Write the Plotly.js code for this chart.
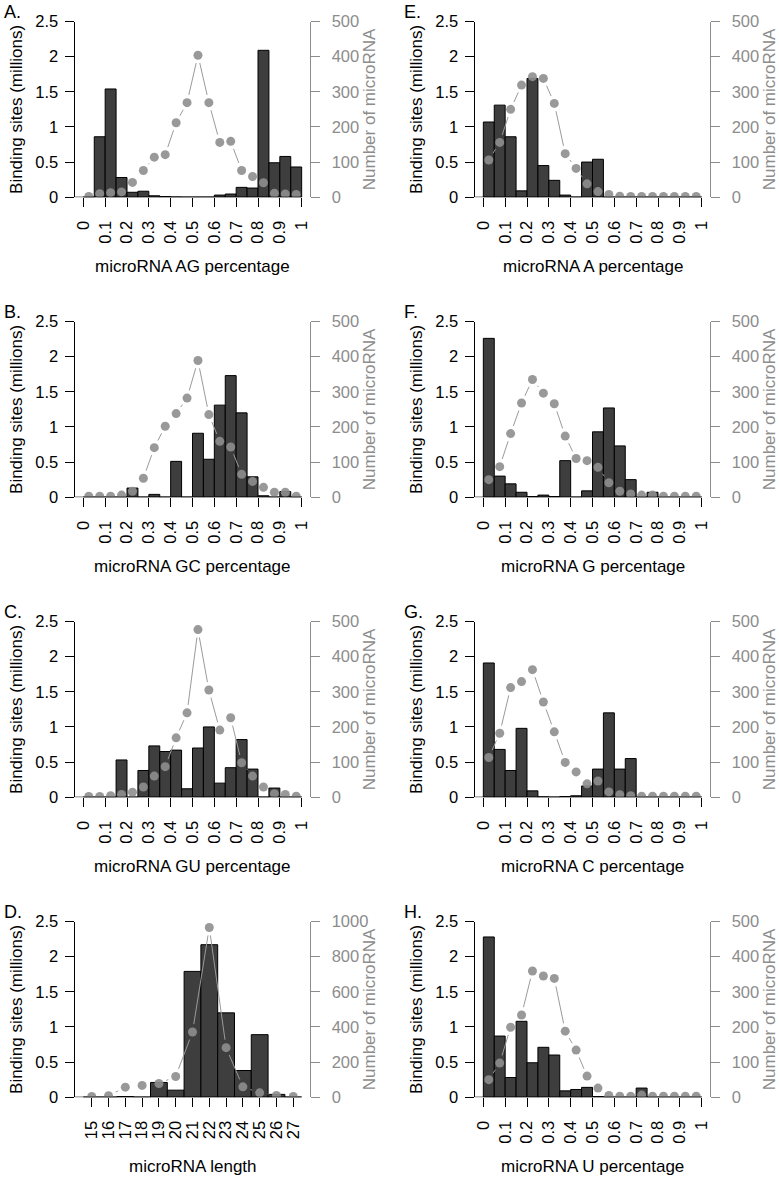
<!DOCTYPE html>
<html><head><meta charset="utf-8">
<script src="https://cdn.plot.ly/plotly-3.0.1.min.js"></script>
<style>html,body{margin:0;padding:0;background:#fff}</style>
</head><body><div id="chart" style="width:779px;height:1179px"></div>
<script>
// ---- data ----
const pctBins = [0.025,0.075,0.125,0.175,0.225,0.275,0.325,0.375,0.425,0.475,0.525,0.575,0.625,0.675,0.725,0.775,0.825,0.875,0.925,0.975];
const lengthBins = [15,16,17,18,19,20,21,22,23,24,25,26,27];
const pctTicks = [0,0.1,0.2,0.3,0.4,0.5,0.6,0.7,0.8,0.9,1];
const pctTickText = ["0","0.1","0.2","0.3","0.4","0.5","0.6","0.7","0.8","0.9","1"];
const lengthTicks = [15,16,17,18,19,20,21,22,23,24,25,26,27];

const agSites  = [0,0.86,1.54,0.28,0.07,0.085,0.02,0.01,0.003,0,0,0,0.03,0.045,0.14,0.13,2.09,0.49,0.58,0.43];
const agCount  = [2,10,13,15,42,76,114,121,212,269,404,269,156,159,76,59,41,11,9,8];

const gcSites  = [0,0,0,0,0.13,0,0.04,0,0.51,0,0.91,0.54,1.31,1.73,1.20,0.29,0.02,0,0.08,0];
const gcCount  = [3,3,3,6,17,54,141,202,238,282,389,235,159,143,65,45,28,14,14,3];

const guSites  = [0,0,0,0.53,0,0.38,0.73,0.65,0.67,0.12,0.70,1.00,0.20,0.42,0.82,0.40,0,0.13,0,0];
const guCount  = [2,2,4,8,14,29,60,87,169,240,477,305,191,226,98,60,29,10,8,3];

const lenSites = [0,0,0.01,0,0.21,0.10,1.79,2.17,1.20,0.38,0.89,0.04,0];
const lenCount = [4,8,57,67,78,118,371,966,282,59,25,10,4];

const aSites   = [1.07,1.31,0.86,0.09,1.69,0.45,0.24,0.03,0,0.50,0.54,0,0,0,0,0,0,0,0,0];
const aCount   = [106,156,250,319,343,338,267,124,82,38,16,8,3,2,2,2,2,2,2,2];

const gSites   = [2.26,0.30,0.19,0.07,0.01,0.03,0.01,0.52,0,0.09,0.93,1.27,0.73,0.25,0,0.07,0,0,0,0];
const gCount   = [50,87,181,268,335,296,266,174,110,104,85,41,17,9,6,6,3,3,3,3];

const cSites   = [1.91,0.68,0.38,0.98,0.09,0.005,0,0.01,0.02,0.16,0.40,1.20,0.40,0.55,0,0,0,0,0,0];
const cCount   = [113,182,312,329,363,271,186,99,72,38,46,15,7,4,3,3,3,3,3,3];

const uSites   = [2.28,0.87,0.28,1.08,0.49,0.71,0.60,0.09,0.11,0.14,0.01,0,0,0,0.13,0,0,0,0,0];
const uCount   = [50,97,199,234,359,345,338,188,134,60,26,5,3,3,6,3,3,3,3,3];

const panelLetters = ["A.","B.","C.","D.","E.","F.","G.","H."];
const xTitles = ["microRNA AG percentage","microRNA GC percentage","microRNA GU percentage","microRNA length",
                 "microRNA A percentage","microRNA G percentage","microRNA C percentage","microRNA U percentage"];
const leftTitle = "Binding sites (millions)";
const rightTitle = "Number of microRNA";

// ---- layout constants ----
const W = 779, H = 1179;
const colL = [74.6, 474.6], colR = [310.4, 710.4];
const rowTop = r => 21.5 + 300*r, rowBot = r => 197.2 + 300*r;
const GAP = 8;
const FONT = "Liberation Sans, Arial, Helvetica, sans-serif";
const GREY = "#8c8c8c";

const panels = [
  {x: pctBins, s: agSites,  c: agCount,  col:0,row:0},
  {x: pctBins, s: gcSites,  c: gcCount,  col:0,row:1},
  {x: pctBins, s: guSites,  c: guCount,  col:0,row:2},
  {x: lengthBins, s: lenSites, c: lenCount, col:0,row:3, len:true},
  {x: pctBins, s: aSites,   c: aCount,   col:1,row:0},
  {x: pctBins, s: gSites,   c: gCount,   col:1,row:1},
  {x: pctBins, s: cSites,   c: cCount,   col:1,row:2},
  {x: pctBins, s: uSites,   c: uCount,   col:1,row:3},
];

const data = [], layout = {
  width: W, height: H, margin: {l:0,r:0,t:0,b:0},
  paper_bgcolor: "#fff", plot_bgcolor: "rgba(0,0,0,0)",
  showlegend: false, font: {family: FONT, size: 16.5, color: "#000"},
  annotations: [], shapes: []
};

panels.forEach((p, k) => {
  const i = k + 1, yl = 2*i - 1, yr = 2*i;
  const xName = i === 1 ? "xaxis" : "xaxis" + i;
  const ylName = yl === 1 ? "yaxis" : "yaxis" + yl;
  const yrName = "yaxis" + yr;
  const xRef = i === 1 ? "x" : "x" + i;
  const ylRef = yl === 1 ? "y" : "y" + yl;
  const yrRef = "y" + yr;
  const x0 = colL[p.col], x1 = colR[p.col];
  const top = rowTop(p.row), bot = rowBot(p.row);
  const xRange = p.len ? [13.98, 28.02] : [-0.04, 1.04];
  const rMax = p.len ? 1000 : 500;
  const bw = p.len ? 1 : 0.05;
  const lastEdge = p.len ? 27.5 : 1;

  layout[xName] = {
    domain: [x0/W, x1/W], range: xRange, anchor: ylRef,
    showline: false, showgrid: false, zeroline: false,
    ticks: "outside", ticklen: 9, tickwidth: 1, tickcolor: "#000",
    tickmode: "array",
    tickvals: p.len ? lengthTicks : pctTicks,
    ticktext: p.len ? lengthTicks.map(String) : pctTickText,
    tickangle: -90, ticklabelstandoff: 7,
    tickfont: {size: 16.5, color: "#000", family: FONT}, fixedrange: true
  };
  layout[ylName] = {
    domain: [1 - bot/H, 1 - top/H], range: [0, 2.5], anchor: xRef,
    showline: true, linecolor: "#000", linewidth: 1,
    showgrid: false, zeroline: false,
    ticks: "outside", ticklen: 9, tickwidth: 1, tickcolor: "#000",
    tickmode: "linear", tick0: 0, dtick: 0.5, ticklabelstandoff: 3,
    tickfont: {size: 16.5, color: "#000", family: FONT}, fixedrange: true
  };
  layout[yrName] = {
    overlaying: ylRef, side: "right", anchor: xRef, range: [0, rMax],
    showline: true, linecolor: GREY, linewidth: 1,
    showgrid: false, zeroline: false,
    ticks: "outside", ticklen: 9, tickwidth: 1, tickcolor: GREY,
    tickmode: "linear", tick0: 0, dtick: rMax/5, ticklabelstandoff: 8,
    tickfont: {size: 16.5, color: GREY, family: FONT}, fixedrange: true
  };

  // bars
  data.push({
    type: "bar", x: p.x, y: p.s, width: bw, xaxis: xRef, yaxis: ylRef,
    marker: {color: "#3e3e3e", line: {color: "#000", width: 1}},
    hoverinfo: "skip"
  });

  // connecting line with gaps around the points (like R type="b")
  const kx = (x1 - x0) / (xRange[1] - xRange[0]);
  const ky = (bot - top) / rMax;
  const lx = [], ly = [];
  for (let j = 0; j < p.x.length - 1; j++) {
    const ax = p.x[j], ay = p.c[j], bx = p.x[j+1], by = p.c[j+1];
    const L = Math.hypot((bx-ax)*kx, (by-ay)*ky);
    if (L <= 2*GAP + 1) continue;
    const t0 = GAP / L, t1 = 1 - GAP / L;
    lx.push(ax + (bx-ax)*t0, ax + (bx-ax)*t1, null);
    ly.push(ay + (by-ay)*t0, ay + (by-ay)*t1, null);
  }
  data.push({
    type: "scatter", mode: "lines", x: lx, y: ly, xaxis: xRef, yaxis: yrRef,
    line: {color: "#9a9a9a", width: 1}, hoverinfo: "skip", connectgaps: false
  });
  data.push({
    type: "scatter", mode: "markers", x: p.x, y: p.c, xaxis: xRef, yaxis: yrRef,
    marker: {color: "#8e8e8e", size: 9, opacity: 0.9, line: {width: 0}},
    hoverinfo: "skip"
  });

  // x baseline
  layout.shapes.push({type: "line", xref: xRef, yref: ylRef,
    x0: xRange[0], x1: lastEdge, y0: 0, y1: 0, line: {color: "#000", width: 1}});

  const ymid = 1 - ((top + bot)/2)/H;
  // panel letter
  layout.annotations.push({text: panelLetters[k], xref: "paper", yref: "paper",
    x: (x0 - 71.5)/W, y: 1 - (top - 9.5)/H, xanchor: "left", yanchor: "middle",
    borderpad: 0, showarrow: false, font: {size: 18, color: "#000", family: FONT}});
  // x title
  layout.annotations.push({text: xTitles[k], xref: "paper", yref: "paper",
    x: ((x0 + x1)/2)/W, y: 1 - (bot + 69.5)/H, xanchor: "center", yanchor: "middle",
    showarrow: false, font: {size: 17, color: "#000", family: FONT}});
  // left y title
  layout.annotations.push({text: leftTitle, xref: "paper", yref: "paper",
    x: (x0 - 58)/W, y: ymid, xanchor: "center", yanchor: "middle", textangle: -90,
    borderpad: 0, showarrow: false, font: {size: 17, color: "#000", family: FONT}});
  // right y title
  layout.annotations.push({text: rightTitle, xref: "paper", yref: "paper",
    x: (x1 + 58.5)/W, y: ymid, xanchor: "center", yanchor: "middle", textangle: -90,
    borderpad: 0, showarrow: false, font: {size: 17, color: GREY, family: FONT}});
});

Plotly.newPlot("chart", data, layout, {staticPlot: true, displayModeBar: false});
</script>
</body></html>
